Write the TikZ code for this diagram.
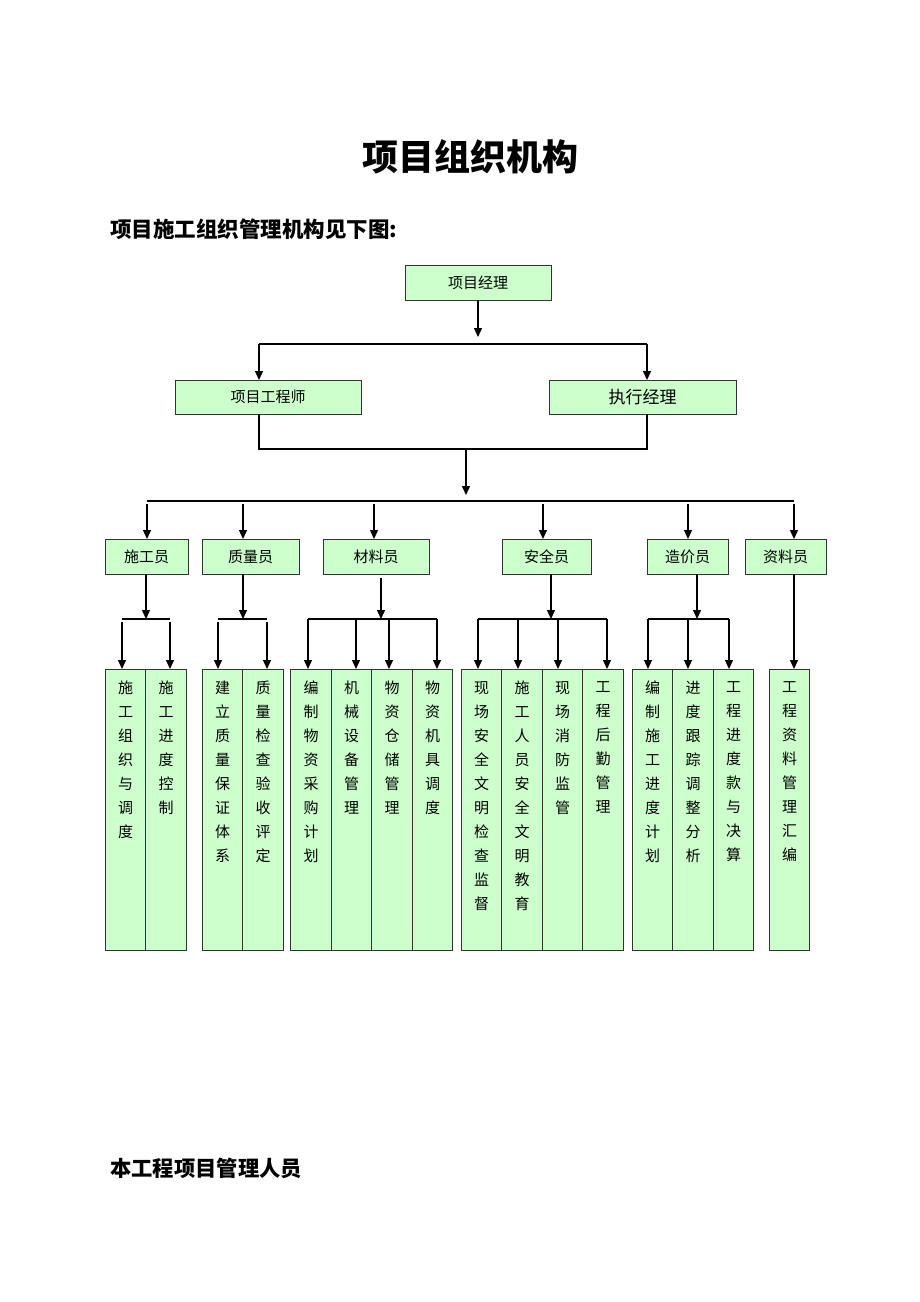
\documentclass[tikz,border=0pt]{standalone}
\usepackage{fontspec}
\setmainfont{Noto Sans CJK SC}
\usetikzlibrary{arrows.meta}
\usetikzlibrary{positioning}
\definecolor{boxgreen}{HTML}{CCFFCC}
\tikzset{
  box/.style={draw=black!80, fill=boxgreen, line width=0.9pt, inner sep=0pt,
    outer sep=0pt, minimum height=35pt, font=\fontsize{15}{18}\selectfont},
  colbox/.style={draw=black!80, fill=boxgreen, line width=0.9pt, inner sep=0pt,
    outer sep=0pt, minimum width=40.5pt, minimum height=281pt},
  coltext/.style={font=\fontsize{15}{24}\selectfont, align=center, inner sep=0pt},
  arr/.style={line width=1.3pt, -{Triangle[length=9pt,width=8pt]}},
  ln/.style={line width=1.3pt},
}

\begin{document}
\begin{tikzpicture}[x=1pt,y=-1pt]
   \useasboundingbox (0,0) rectangle (920,1302);

   \node (title) at (470,157) {\fontsize{36}{40}\selectfont\bfseries 项目组织机构};
   \node[anchor=west, inner sep=0pt] (sub) at (110,229)
      {\fontsize{21.5}{24}\selectfont\bfseries 项目施工组织管理机构见下图:};
   \node[anchor=west, inner sep=0pt] (staff) at (110,1168)
      {\fontsize{21.3}{24}\selectfont\bfseries 本工程项目管理人员};

   % top levels
   \node[box, minimum width=146pt] (pm) at (478,282.5) {项目经理};
   \node[box, minimum width=186pt, minimum height=34pt] (eng) at (268,397) {项目工程师};
   \node[box, minimum width=187pt, minimum height=34pt,
      font=\fontsize{17}{20}\selectfont] (exe) at (642.5,397) {执行经理};

   % posts
   \node[box, minimum width=83pt]  (sg) at (146.5,556.5) {施工员};
   \node[box, minimum width=97pt]  (zl) at (250.5,556.5) {质量员};
   \node[box, minimum width=106pt] (cl) at (376,556.5)   {材料员};
   \node[box, minimum width=89pt]  (aq) at (546.5,556.5) {安全员};
   \node[box, minimum width=81pt]  (zj) at (687.5,556.5) {造价员};
   \node[box, minimum width=81pt]  (zk) at (785.5,556.5) {资料员};

   % duty columns
   \node[colbox] (c11) at (125.5,809.5) {};
   \node[colbox, right=0pt of c11] (c12) {};
   \node[colbox] (c21) at (222.5,809.5) {};
   \node[colbox, right=0pt of c21] (c22) {};
   \node[colbox] (c31) at (311,809.5) {};
   \node[colbox, right=0pt of c31] (c32) {};
   \node[colbox, right=0pt of c32] (c33) {};
   \node[colbox, right=0pt of c33] (c34) {};
   \node[colbox] (c41) at (481.5,809.5) {};
   \node[colbox, right=0pt of c41] (c42) {};
   \node[colbox, right=0pt of c42] (c43) {};
   \node[colbox, right=0pt of c43] (c44) {};
   \node[colbox] (c51) at (652.5,809.5) {};
   \node[colbox, right=0pt of c51] (c52) {};
   \node[colbox, right=0pt of c52] (c53) {};
   \node[colbox] (c61) at (789.5,809.5) {};

   \node[coltext, below=12pt of c11.north] (t11) {施\\工\\组\\织\\与\\调\\度};
   \node[coltext, below=12pt of c12.north] (t12) {施\\工\\进\\度\\控\\制};
   \node[coltext, below=12pt of c21.north] (t21) {建\\立\\质\\量\\保\\证\\体\\系};
   \node[coltext, below=12pt of c22.north] (t22) {质\\量\\检\\查\\验\\收\\评\\定};
   \node[coltext, below=12pt of c31.north] (t31) {编\\制\\物\\资\\采\\购\\计\\划};
   \node[coltext, below=12pt of c32.north] (t32) {机\\械\\设\\备\\管\\理};
   \node[coltext, below=12pt of c33.north] (t33) {物\\资\\仓\\储\\管\\理};
   \node[coltext, below=12pt of c34.north] (t34) {物\\资\\机\\具\\调\\度};
   \node[coltext, below=12pt of c41.north] (t41) {现\\场\\安\\全\\文\\明\\检\\查\\监\\督};
   \node[coltext, below=12pt of c42.north] (t42) {施\\工\\人\\员\\安\\全\\文\\明\\教\\育};
   \node[coltext, below=12pt of c43.north] (t43) {现\\场\\消\\防\\监\\管};
   \node[coltext, below=12pt of c44.north] (t44) {工\\程\\后\\勤\\管\\理};
   \node[coltext, below=12pt of c51.north] (t51) {编\\制\\施\\工\\进\\度\\计\\划};
   \node[coltext, below=12pt of c52.north] (t52) {进\\度\\跟\\踪\\调\\整\\分\\析};
   \node[coltext, below=12pt of c53.north] (t53) {工\\程\\进\\度\\款\\与\\决\\算};
   \node[coltext, below=12pt of c61.north] (t61) {工\\程\\资\\料\\管\\理\\汇\\编};

   % manager to engineer / executive
   \coordinate (t1) at (478,337);
   \coordinate (b1l) at (259,344);
   \coordinate (b1r) at (647,344);
   \draw[arr] (pm) -- (t1);
   \draw[ln] (b1l) -- (b1r);
   \draw[arr] (b1l) -- (b1l |- eng.north);
   \draw[arr] (b1r) -- (b1r |- exe.north);

   \coordinate (b2l) at (259,449);
   \coordinate (b2r) at (647,449);
   \coordinate (b2m) at (466,449);
   \coordinate (t2) at (466,495);
   \draw[ln] (b1l |- eng.south) -- (b2l) -- (b2r) -- (b1r |- exe.south);
   \draw[arr] (b2m) -- (t2);

   % bar to posts
   \coordinate (s1) at (147,501);
   \coordinate (s2) at (243,501);
   \coordinate (s3) at (374,501);
   \coordinate (s4) at (543,501);
   \coordinate (s5) at (688,501);
   \coordinate (s6) at (794,501);
   \draw[ln] (s1) -- (s6);
   \draw[arr, shorten <=3pt] (s1) -- (s1 |- sg.north);
   \draw[arr, shorten <=3pt] (s2) -- (s2 |- zl.north);
   \draw[arr, shorten <=3pt] (s3) -- (s3 |- cl.north);
   \draw[arr, shorten <=3pt] (s4) -- (s4 |- aq.north);
   \draw[arr, shorten <=3pt] (s5) -- (s5 |- zj.north);
   \draw[arr, shorten <=3pt] (s6) -- (s6 |- zk.north);

   % posts to duties
   \coordinate (m1) at (146,619);
   \coordinate (m1l) at (122,619);
   \coordinate (m1r) at (170,619);
   \draw[arr] (m1 |- sg.south) -- (m1);
   \draw[ln] (m1l) -- (m1r);
   \draw[arr, shorten <=3pt] (m1l) -- (m1l |- c11.north);
   \draw[arr, shorten <=3pt] (m1r) -- (m1r |- c12.north);

   \coordinate (m2) at (243,619);
   \coordinate (m2l) at (218,619);
   \coordinate (m2r) at (267,619);
   \draw[arr] (m2 |- zl.south) -- (m2);
   \draw[ln] (m2l) -- (m2r);
   \draw[arr, shorten <=3pt] (m2l) -- (m2l |- c21.north);
   \draw[arr, shorten <=3pt] (m2r) -- (m2r |- c22.north);

   \coordinate (m3) at (381,619);
   \coordinate (m3a) at (308,619);
   \coordinate (m3b) at (356,619);
   \coordinate (m3c) at (389,619);
   \coordinate (m3d) at (437,619);
   \draw[arr, shorten <=4pt] (m3 |- cl.south) -- (m3);
   \draw[ln] (m3a) -- (m3d);
   \draw[arr] (m3a) -- (m3a |- c31.north);
   \draw[arr] (m3b) -- (m3b |- c32.north);
   \draw[arr] (m3c) -- (m3c |- c33.north);
   \draw[arr] (m3d) -- (m3d |- c34.north);

   \coordinate (m4) at (551,619);
   \coordinate (m4a) at (478,619);
   \coordinate (m4b) at (518,619);
   \coordinate (m4c) at (558,619);
   \coordinate (m4d) at (607,619);
   \draw[arr] (m4 |- aq.south) -- (m4);
   \draw[ln] (m4a) -- (m4d);
   \draw[arr] (m4a) -- (m4a |- c41.north);
   \draw[arr] (m4b) -- (m4b |- c42.north);
   \draw[arr] (m4c) -- (m4c |- c43.north);
   \draw[arr] (m4d) -- (m4d |- c44.north);

   \coordinate (m5) at (697,619);
   \coordinate (m5a) at (648,619);
   \coordinate (m5b) at (688,619);
   \coordinate (m5c) at (729,619);
   \draw[arr] (m5 |- zj.south) -- (m5);
   \draw[ln] (m5a) -- (m5c);
   \draw[arr] (m5a) -- (m5a |- c51.north);
   \draw[arr] (m5b) -- (m5b |- c52.north);
   \draw[arr] (m5c) -- (m5c |- c53.north);

   \draw[arr] (s6 |- zk.south) -- (s6 |- c61.north);
\end{tikzpicture}
\end{document}
